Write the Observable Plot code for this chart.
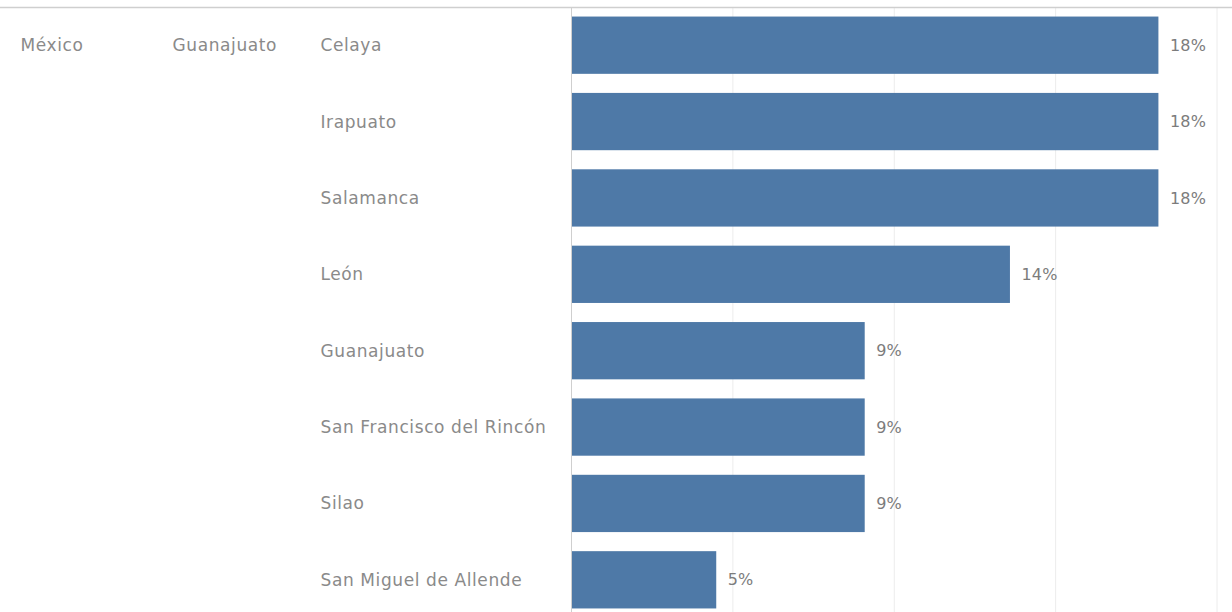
<!DOCTYPE html>
<html>
<head>
<meta charset="utf-8">
<script src="https://cdn.jsdelivr.net/npm/d3@7"></script>
<script src="https://cdn.jsdelivr.net/npm/@observablehq/plot@0.6"></script>
<style>
  html, body { margin: 0; padding: 0; background: #fff; overflow: hidden; }
  #chart svg { display: block; }
  #chart text { letter-spacing: 0.6px; }
  #chart .val text { letter-spacing: 0.2px; }
</style>
</head>
<body>
<div id="chart"></div>
<script>
const country = "México";
const state = "Guanajuato";
const cities = ["Celaya", "Irapuato", "Salamanca", "León", "Guanajuato",
                "San Francisco del Rincón", "Silao", "San Miguel de Allende"];
const shares = [18.2, 18.2, 18.2, 13.6, 9.1, 9.1, 9.1, 4.5]; // percent
const gridTicks = [5, 10, 15, 20];

const data = cities.map((c, i) => ({city: c, share: shares[i]}));
const font = "DejaVu Sans, sans-serif";

const chart = Plot.plot({
  width: 1232,
  height: 618,
  marginTop: 7,
  marginBottom: 0,
  marginLeft: 0,
  marginRight: 0,
  style: {fontFamily: font, fontSize: "17px", background: "#fff"},
  x: {domain: [0, 20.48], range: [571, 1232], axis: null},
  y: {domain: cities, paddingInner: 0.25, paddingOuter: 0.125, axis: null, round: false},
  marks: [
    Plot.ruleX(gridTicks, {stroke: "#ececec", strokeWidth: 1}),
    Plot.barX(data, {y: "city", x: "share", fill: "#4e79a7"}),
    Plot.ruleX([0], {stroke: "#cfcfcf", strokeWidth: 1}),
    Plot.frame({anchor: "top", stroke: "#cfcfcf", strokeWidth: 1.5}),
    Plot.text(data, {y: "city", x: "share", text: d => Math.round(d.share) + "%",
      textAnchor: "start", dx: 11, fill: "#7c7c7c", fontSize: 16, className: "val"}),
    Plot.text(data, {y: "city", frameAnchor: "left", text: "city",
      textAnchor: "start", dx: 320, fill: "#8a8a8a", fontSize: 17}),
    Plot.text([country], {y: () => cities[0], frameAnchor: "left", text: d => d,
      textAnchor: "start", dx: 20, fill: "#8a8a8a", fontSize: 17}),
    Plot.text([state], {y: () => cities[0], frameAnchor: "left", text: d => d,
      textAnchor: "start", dx: 172, fill: "#8a8a8a", fontSize: 17})
  ]
});
document.getElementById("chart").appendChild(chart);
</script>
</body>
</html>
